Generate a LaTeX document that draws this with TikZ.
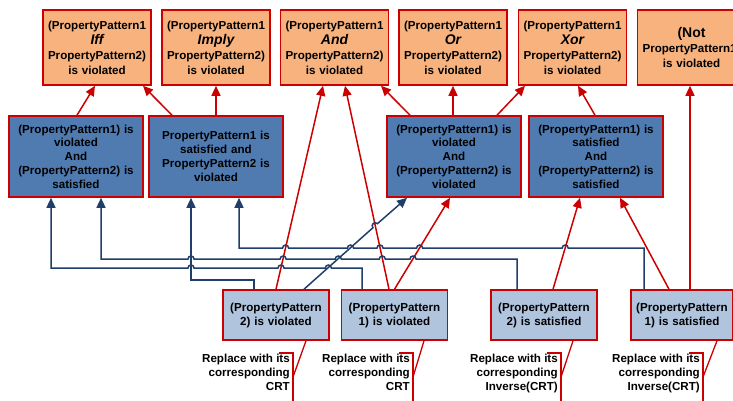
\documentclass[tikz,border=0pt]{standalone}
\usepackage{fontspec}
\setmainfont{Liberation Sans}
\usetikzlibrary{arrows.meta}

\definecolor{boxred}{HTML}{CC0000}
\definecolor{peach}{HTML}{F8B27E}
\definecolor{steel}{HTML}{4F7BB1}
\definecolor{pale}{HTML}{B0C4DE}
\definecolor{navy}{HTML}{1F3E6A}

% a jump over a crossing line, going right
\newcommand\hop[2]{-- (#1-3,#2) arc[start angle=180,end angle=360,radius=3]}
\newcommand\opword[1]{{\fontsize{14}{15}\selectfont\itshape #1}}

\tikzset{
  verdict/.style={draw=boxred, line width=1.6pt, fill=peach, minimum width=108pt, minimum height=75pt,
    inner sep=0pt, align=center, text width=104pt, font=\bfseries\fontsize{11.6}{15}\selectfont},
  combo/.style={draw=boxred, line width=1.6pt, fill=steel, minimum width=134pt, minimum height=81pt,
    inner sep=0pt, align=center, text width=130pt, font=\bfseries\fontsize{11.6}{13.8}\selectfont},
  atom/.style={draw=boxred, line width=1.6pt, fill=pale, minimum width=106pt, minimum height=50pt,
    inner sep=0pt, align=center, text width=100pt, font=\bfseries\fontsize{11.6}{14}\selectfont},
  note/.style={anchor=north east, inner sep=0pt, align=right, font=\bfseries\fontsize{11.6}{14}\selectfont},
  imp/.style={draw=boxred, line width=1.5pt, -{Triangle[width=9pt,length=10pt]}},
  back/.style={draw=navy, line width=1.5pt, {Triangle[width=9pt,length=10pt]}-},
  brace/.style={draw=boxred, line width=1.3pt},
}

\begin{document}
\begin{tikzpicture}[x=1pt,y=-1pt]
\clip (0,0) rectangle (733,400);

% composed verdicts
\node[verdict] (iff) at (97,47.5) {(PropertyPattern1\\\opword{Iff}\\PropertyPattern2)\\is violated};
\node[verdict] (imply) at (216,47.5) {(PropertyPattern1\\\opword{Imply}\\PropertyPattern2)\\is violated};
\node[verdict] (and) at (334.5,47.5) {(PropertyPattern1\\\opword{And}\\PropertyPattern2)\\is violated};
\node[verdict] (or) at (453,47.5) {(PropertyPattern1\\\opword{Or}\\PropertyPattern2)\\is violated};
\node[verdict] (xor) at (572.5,47.5) {(PropertyPattern1\\\opword{Xor}\\PropertyPattern2)\\is violated};
\node[verdict] (not) at (691.5,47.5) {{\fontsize{14}{15}\selectfont(Not}\\PropertyPattern1)\\is violated};

% combined states
\node[combo] (vs) at (76,156.5) {(PropertyPattern1) is\\violated\\And\\(PropertyPattern2) is\\satisfied};
\node[combo] (sv) at (216,156.5) {PropertyPattern1 is\\satisfied and\\PropertyPattern2 is\\violated};
\node[combo] (vv) at (454,156.5) {(PropertyPattern1) is\\violated\\And\\(PropertyPattern2) is\\violated};
\node[combo] (ss) at (596,156.5) {(PropertyPattern1) is\\satisfied\\And\\(PropertyPattern2) is\\satisfied};

% single states
\node[atom] (vtwo) at (276,315) {(PropertyPattern\\2) is violated};
\node[atom] (vone) at (394.5,315) {(PropertyPattern\\1) is violated};
\node[atom] (stwo) at (544,315) {(PropertyPattern\\2) is satisfied};
\node[atom, minimum width=102pt] (sone) at (682,315) {(PropertyPattern\\1) is satisfied};

% notes
\node[note] (crtA) at (290,354) {Replace with its\\corresponding\\CRT};
\node[note] (crtB) at (410,354) {Replace with its\\corresponding\\CRT};
\node[note] (invA) at (558,354) {Replace with its\\corresponding\\Inverse(CRT)};
\node[note] (invB) at (700,354) {Replace with its\\corresponding\\Inverse(CRT)};

\foreach \n/\b/\s in {crtA/vtwo/30, crtB/vone/29.5, invA/stwo/29, invB/sone/35}{
  \draw[brace] ([xshift=-11pt,yshift=1pt]\n.north east) -- ([xshift=3pt,yshift=1pt]\n.north east) -- ++(0,60);
  \draw[brace] ([xshift=\s pt]\b.south) -- ([xshift=3pt,yshift=-23pt]\n.north east);
}

% red implications
\draw[imp] ([xshift=1pt]vs.north) -- ([xshift=-2pt]iff.south);
\draw[imp] ([xshift=-44pt]sv.north) -- ([xshift=46pt]iff.south);
\draw[imp] (sv.north) -- (imply.south);
\draw[imp] (vtwo.north) -- ([xshift=-11.5pt]and.south);
\draw[imp] ([xshift=-5.5pt]vone.north) -- ([xshift=10.5pt]and.south);
\draw[imp] (vone.north) -- ([xshift=-4pt]vv.south);
\draw[imp] ([xshift=-44pt]vv.north) -- ([xshift=46.5pt]and.south);
\draw[imp] ([xshift=-1pt]vv.north) -- ([xshift=-1pt]vv.north |- or.south);
\draw[imp] ([xshift=43pt]vv.north) -- ([xshift=-47.5pt]xor.south);
\draw[imp] ([xshift=-1pt]ss.north) -- ([xshift=5.5pt]xor.south);
\draw[imp] ([xshift=9pt]stwo.north) -- ([xshift=-16pt]ss.south);
\draw[imp] ([xshift=-13pt]sone.north) -- ([xshift=24pt]ss.south);
\draw[imp] ([xshift=8pt]sone.north) -- ([xshift=8pt]sone.north |- not.south);

% blue back links
\draw[back] ([xshift=-25pt]sv.south) -- (191,280) -- (254,280) -- ([xshift=-22pt]vtwo.north);
\draw[back] ([xshift=-25pt]vs.south) -- (51,268) \hop{191}{268} \hop{281}{268} \hop{328.4}{268}
  -- (362,268) -- ([xshift=-32.5pt]vone.north);
\draw[back] ([xshift=25pt]vs.south) -- (101,259) \hop{191}{259} \hop{283.1}{259} \hop{338.3}{259}
  \hop{382.3}{259} \hop{413}{259} -- (517,259) -- ([xshift=-27pt]stwo.north);
\draw[back] ([xshift=23pt]sv.south) -- (239,248) \hop{285.6}{248} \hop{350.5}{248} \hop{380}{248}
  \hop{419.6}{248} \hop{565.2}{248} -- (644,248) -- ([xshift=-38pt]sone.north);
\draw[back] ([xshift=-47pt]vv.south) -- (377.4,223.7)
  arc[start angle=-42.1,end angle=-222.1,radius=3] -- ([xshift=28pt]vtwo.north);

\end{tikzpicture}
\end{document}
